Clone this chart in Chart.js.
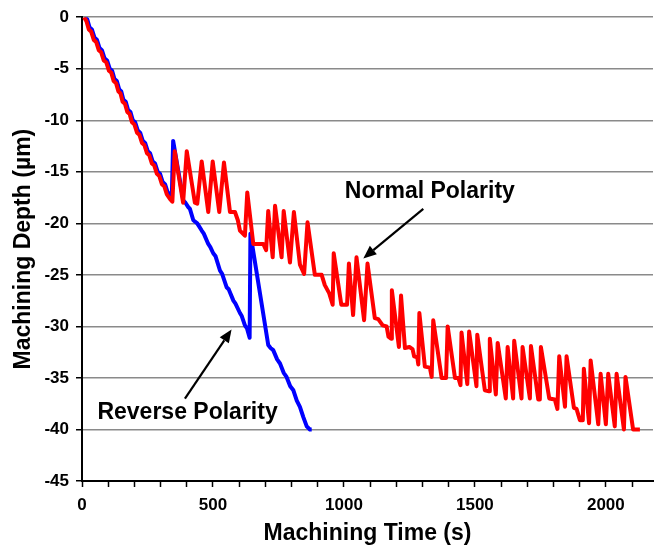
<!DOCTYPE html>
<html>
<head>
<meta charset="utf-8">
<script src="https://cdn.jsdelivr.net/npm/chart.js@4"></script>
<style>
  html, body { margin: 0; padding: 0; background: #fff; }
  #wrap { width: 654px; height: 548px; position: relative; }
</style>
</head>
<body>
<div id="wrap"><canvas id="chart" width="654" height="548"></canvas></div>
<script>
// Normal polarity (red) - machining time (s) and depth (um)
const normalTime = [
  8, 17, 26, 35, 45, 54, 64, 73, 83, 93, 103, 112, 121, 130, 139, 147, 155, 164, 173, 182,
  191, 200, 210, 219, 229, 238, 248, 257, 267, 276, 286, 295, 305, 314, 324, 335, 345,
  354, 386, 400, 431, 440, 457, 482, 499, 524, 542, 565, 584, 595, 603, 622, 631, 654,
  692, 703, 711, 728, 737, 762, 770, 794, 809, 832, 848, 861, 889, 915, 927, 944, 957,
  961, 990, 1012, 1019, 1035, 1048, 1077, 1090, 1118, 1131, 1148, 1163, 1170, 1180, 1183,
  1210, 1218, 1233, 1250, 1262, 1268, 1280, 1284, 1288, 1309, 1328, 1335, 1341, 1373,
  1390, 1396, 1424, 1437, 1445, 1449, 1471, 1478, 1506, 1509, 1538, 1554, 1557, 1580,
  1587, 1618, 1625, 1646, 1650, 1678, 1682, 1710, 1714, 1742, 1748, 1752, 1784, 1805,
  1815, 1822, 1844, 1850, 1878, 1888, 1901, 1912, 1916, 1936, 1942, 1971, 1980, 2000,
  2009, 2034, 2041, 2069, 2075, 2104, 2130
];
const normalDepth = [
  0, -0.4, -1.2, -1.4, -2.2, -2.4, -3.2, -3.4, -4.2, -4.4, -5.2, -5.4, -6.2, -6.4, -7.2, -7.4, -8.2, -8.4, -9.2, -9.4,
  -10.2, -10.4, -11.2, -11.4, -12.2, -12.4, -13.2, -13.4, -14.2, -14.4, -15.2, -15.4, -16.2, -16.4, -17.2, -17.6, -17.9,
  -13.0, -18.0, -13.0, -18.0, -18.1, -14.0, -18.9, -14.0, -18.9, -14.1, -18.9, -18.9, -19.7, -20.7, -21.2, -17.0, -22.0,
  -22.0, -22.6, -18.8, -23.3, -18.3, -23.3, -18.8, -23.8, -18.9, -24.0, -24.9, -19.9, -25.0, -25.0, -26.0, -26.8, -27.9,
  -22.9, -27.9, -27.9, -23.9, -28.9, -23.3, -29.4, -23.9, -29.2, -29.3, -29.9, -30.0, -31.0, -31.2, -26.5,
  -32.0, -27.0, -32.1, -32.0, -32.2, -32.9, -33.0, -33.7, -28.7, -33.9, -34.0, -34.9, -29.4, -35.0,
  -35.0, -30.0, -35.0, -35.0, -35.7, -30.6, -35.6, -30.5, -35.8, -30.8, -36.2, -36.3, -31.2, -36.6,
  -31.6, -37.0, -32.0, -37.0, -31.4, -37.0, -32.0, -37.0, -31.9, -37.1, -37.1, -32.0, -37.0, -37.1,
  -38.0, -32.9, -37.8, -32.9, -37.9, -38.0, -39.1, -39.1, -34.1, -39.4, -33.3, -39.5, -34.6, -39.5,
  -34.6, -39.7, -34.6, -40.0, -34.9, -40.0, -40.0
];

// Reverse polarity (blue)
const reverseTime = [
  11, 20, 29, 38, 48, 57, 67, 76, 86, 96, 106, 115, 124, 133, 142, 150, 158, 167, 176, 185,
  194, 203, 213, 222, 232, 241, 251, 260, 270, 279, 289, 298, 308, 317, 327, 338, 343,
  348, 387, 395, 405, 412, 425, 440, 457, 465, 482, 490, 501, 510, 527, 535, 552, 560,
  578, 586, 603, 610, 622, 630, 640, 643, 711, 720, 730, 745, 756, 770, 781, 795, 807,
  820, 832, 845, 858, 870, 877
];
const reverseDepth = [
  0, -0.2, -1, -1.2, -2, -2.2, -3, -3.2, -4, -4.2, -5, -5.2, -6, -6.2, -7, -7.2, -8, -8.2, -9, -9.2,
  -10, -10.2, -11, -11.2, -12, -12.2, -13, -13.2, -14, -14.2, -15, -15.2, -16, -16.2, -17, -17.2, -17.3,
  -12.0, -17.8, -18.0, -18.4, -18.6, -19.7, -20.0, -20.7, -21.0, -22.0, -22.3, -22.9, -23.2, -24.6, -24.9, -26.2, -26.4,
  -27.5, -27.8, -28.7, -29.0, -29.9, -30.2, -31.1, -21.0, -31.8, -32.1, -32.3, -33.2, -33.6, -34.5, -34.9, -35.8, -36.2,
  -37.2, -37.8, -38.8, -39.7, -40.0, -40.0
];

const xMax = 2180;
const yTicks = { min: -45, max: 0, step: 5 };

// Callouts: label position and arrow, in data units
const callouts = [
  { text: 'Normal Polarity', at: [1328, -16.9], from: [1303, -18.6], to: [1074, -23.4] },
  { text: 'Reverse Polarity', at: [403, -38.4], from: [393, -37.0], to: [571, -30.3] }
];

const FONT = '"Liberation Sans", Arial, Helvetica, sans-serif';

function toPoints(xs, ys) {
  return xs.map((x, i) => ({ x: x, y: ys[i] }));
}

const calloutPlugin = {
  id: 'callouts',
  afterDraw(chart) {
    const { ctx, scales: { x, y } } = chart;
    ctx.save();
    callouts.forEach(c => {
      const tx = x.getPixelForValue(c.at[0]);
      const ty = y.getPixelForValue(c.at[1]);
      ctx.font = 'bold 23px ' + FONT;
      ctx.fillStyle = '#000';
      ctx.textAlign = 'center';
      ctx.textBaseline = 'middle';
      ctx.fillText(c.text, tx, ty);

      const x1 = x.getPixelForValue(c.from[0]);
      const y1 = y.getPixelForValue(c.from[1]);
      const x2 = x.getPixelForValue(c.to[0]);
      const y2 = y.getPixelForValue(c.to[1]);
      const ang = Math.atan2(y2 - y1, x2 - x1);
      const headLen = 13, headW = 5.5;
      const bx = x2 - headLen * Math.cos(ang);
      const by = y2 - headLen * Math.sin(ang);
      ctx.strokeStyle = '#000';
      ctx.lineWidth = 2.2;
      ctx.beginPath();
      ctx.moveTo(x1, y1);
      ctx.lineTo(bx, by);
      ctx.stroke();
      ctx.beginPath();
      ctx.moveTo(x2, y2);
      ctx.lineTo(bx + headW * Math.sin(ang), by - headW * Math.cos(ang));
      ctx.lineTo(bx - headW * Math.sin(ang), by + headW * Math.cos(ang));
      ctx.closePath();
      ctx.fill();
    });
    ctx.restore();
  }
};

new Chart(document.getElementById('chart'), {
  type: 'line',
  data: {
    datasets: [
      {
        label: 'Normal Polarity',
        data: toPoints(normalTime, normalDepth),
        borderColor: '#ff0000',
        backgroundColor: '#ff0000',
        borderWidth: 4,
        pointRadius: 0,
        tension: 0,
        borderJoinStyle: 'round'
      },
      {
        label: 'Reverse Polarity',
        data: toPoints(reverseTime, reverseDepth),
        borderColor: '#0000ff',
        backgroundColor: '#0000ff',
        borderWidth: 4,
        pointRadius: 0,
        tension: 0,
        borderJoinStyle: 'round'
      }
    ]
  },
  options: {
    responsive: false,
    devicePixelRatio: 1,
    animation: false,
    layout: { padding: { top: 16, right: 1, left: 0, bottom: 0 } },
    plugins: {
      legend: { display: false },
      tooltip: { enabled: false }
    },
    scales: {
      x: {
        type: 'linear',
        min: 0,
        max: xMax,
        afterFit(scale) { scale.height = 67; },
        border: { color: '#000', width: 2 },
        grid: {
          drawOnChartArea: false,
          drawTicks: true,
          tickLength: 6,
          tickColor: '#000',
          tickWidth: 1.5
        },
        ticks: {
          stepSize: 100,
          autoSkip: false,
          includeBounds: false,
          maxRotation: 0,
          padding: 8,
          color: '#000',
          font: { family: FONT, size: 17, weight: 'bold' },
          callback: (v) => (v % 500 === 0 ? String(v) : '')
        },
        title: {
          display: true,
          text: 'Machining Time (s)',
          color: '#000',
          font: { family: FONT, size: 23, weight: 'bold' },
          padding: { top: 0, bottom: 1 }
        }
      },
      y: {
        min: yTicks.min,
        max: yTicks.max,
        afterFit(scale) { scale.width = 82; },
        border: { color: '#000', width: 2 },
        grid: {
          color: '#8a8a8a',
          lineWidth: 1.5,
          drawTicks: true,
          tickLength: 6,
          tickColor: '#000',
          tickWidth: 1.5
        },
        ticks: {
          stepSize: yTicks.step,
          padding: 7,
          color: '#000',
          font: { family: FONT, size: 17, weight: 'bold' }
        },
        title: {
          display: true,
          text: 'Machining Depth (µm)',
          color: '#000',
          font: { family: FONT, size: 23, weight: 'bold' },
          padding: { top: 10, bottom: 0 }
        }
      }
    }
  },
  plugins: [calloutPlugin]
});
</script>
</body>
</html>
